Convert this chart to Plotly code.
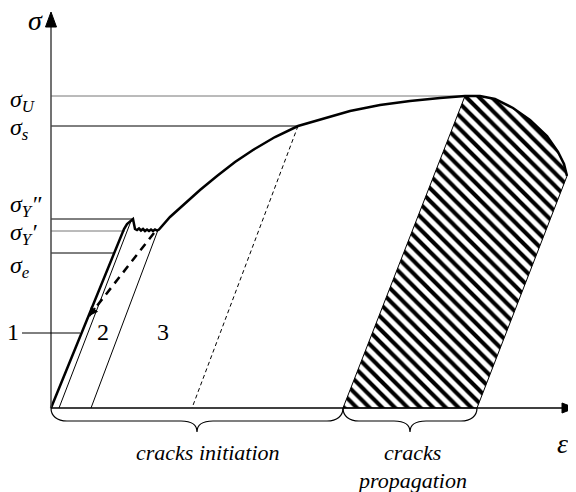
import numpy as np
import plotly.graph_objects as go

# ---------------- data (diagram units: strain -> x, stress -> y) ----------------
curve_x = [0, 70, 73, 76, 79, 82, 83, 84, 86, 88, 90, 92, 94, 96, 98, 100, 102, 104, 106, 108,
           119, 132, 149, 166, 184, 202, 224, 247, 274, 299, 329, 359, 389, 414, 429, 444, 462,
           479, 496, 507, 513, 516]
curve_y = [0, 170, 179, 184, 187, 189, 184, 179, 178, 179.5, 177.5, 179, 177, 178.5, 177, 178.5,
           177, 178.5, 177.5, 178.5, 191, 203, 218, 232, 246, 258, 271, 282, 290, 297, 303, 307,
           310, 312, 312, 309, 300, 288, 272, 256, 244, 232]

levels = {"U": 312, "s": 282, "Y2": 189, "Y1": 177, "e": 155}
level_ends = {"U": 414, "s": 247, "Y2": 82, "Y1": 74, "e": 63}
level_labels = {"U": "σ<sub>U</sub>", "s": "σ<sub>s</sub>", "Y2": "σ<sub>Y</sub>″",
                "Y1": "σ<sub>Y</sub>′", "e": "σ<sub>e</sub>"}
level_colors = {"U": "#777777", "s": "#000000", "Y2": "#000000", "Y1": "#777777", "e": "#000000"}

line_a = ([8, 80], [0, 187])          # thin unloading line "2"
line_b = ([40, 107], [0, 178])        # thin unloading line "3"
dash_thick = ([103, 38], [175, 92])   # dashed thick line with arrow
dash_thin = ([247, 141], [282, 0])    # dashed unloading from sigma_s

hatch_left = ([292, 414], [0, 312])
hatch_right_bottom = 426

x_axis_end, y_axis_end = 524, 396
braces = [(0, 292), (292, 426)]

# ---------------- figure ----------------
fig = go.Figure()
black = "#000000"

def add_line(x, y, width=1.0, color=black, dash="solid"):
    fig.add_trace(go.Scatter(x=x, y=y, mode="lines", hoverinfo="skip",
                             line=dict(color=color, width=width, dash=dash)))

# hatched crack-propagation region
cx = np.array(curve_x, dtype=float)
cy = np.array(curve_y, dtype=float)
sel = cx >= hatch_left[0][1]
hx = [hatch_left[0][0]] + list(cx[sel]) + [hatch_right_bottom, hatch_left[0][0]]
hy = [hatch_left[1][0]] + list(cy[sel]) + [0, hatch_left[1][0]]
fig.add_trace(go.Scatter(x=hx, y=hy, mode="lines", fill="toself", hoverinfo="skip",
                         line=dict(color=black, width=1),
                         fillcolor="white",
                         fillpattern=dict(shape="\\", size=9, solidity=0.45,
                                          fgcolor=black, bgcolor="white", fillmode="replace")))

# horizontal level lines
for k in levels:
    add_line([0, level_ends[k]], [levels[k], levels[k]], 1.0, level_colors[k])

# thin lines
add_line(*line_a, 1.0)
add_line(*line_b, 1.0)
add_line(*dash_thin, 1.0, dash="4px,3px")
add_line(*dash_thick, 2.5, dash="8px,6px")

# main curve
add_line(curve_x, curve_y, 2.5)

# axes
add_line([0, 0], [0, y_axis_end - 14], 1.5, "#444444")
add_line([0, x_axis_end - 12], [0, 0], 1.5)
fig.add_trace(go.Scatter(x=[-5.5, 5.5, 0, -5.5], y=[y_axis_end - 15, y_axis_end - 15, y_axis_end, y_axis_end - 15],
                         mode="lines", fill="toself", fillcolor=black, line=dict(color=black, width=1),
                         hoverinfo="skip"))
fig.add_trace(go.Scatter(x=[x_axis_end - 13, x_axis_end - 13, x_axis_end, x_axis_end - 13], y=[5, -5, 0, 5],
                         mode="lines", fill="toself", fillcolor=black, line=dict(color=black, width=1),
                         hoverinfo="skip"))

# leader line for label 1
add_line([-29, 29], [75, 75], 1.0)

# braces
shapes = []
for x0, x1 in braces:
    xm = (x0 + x1) / 2
    top, bar, tip = 0, -13, -24
    p = (f"M {x0},{top} C {x0},{top-8} {x0+6},{bar} {x0+16},{bar} "
         f"L {xm-16},{bar} C {xm-6},{bar} {xm},{bar-3} {xm},{tip} "
         f"C {xm},{bar-3} {xm+6},{bar} {xm+16},{bar} "
         f"L {x1-16},{bar} C {x1-6},{bar} {x1},{top-8} {x1},{top}")
    shapes.append(dict(type="path", path=p, xref="x", yref="y", line=dict(color=black, width=1.2)))

# arrowhead at end of thick dashed line
dx = dash_thick[0][1] - dash_thick[0][0]
dy = dash_thick[1][1] - dash_thick[1][0]
L = (dx**2 + dy**2) ** 0.5
annotations = [dict(x=dash_thick[0][1], y=dash_thick[1][1], xref="x", yref="y",
                    ax=dash_thick[0][1] - dx / L * 12, ay=dash_thick[1][1] - dy / L * 12,
                    axref="x", ayref="y", text="", showarrow=True, arrowhead=2,
                    arrowsize=1.2, arrowwidth=1.5, arrowcolor=black)]

serif = "Times New Roman"
level_label_y = {"U": 307, "s": 279, "Y2": 202, "Y1": 174, "e": 141}
for k in levels:
    annotations.append(dict(x=0, y=level_label_y[k], xref="paper", yref="y", xanchor="left",
                            yanchor="middle", text=f"<i>{level_labels[k]}</i>", showarrow=False,
                            font=dict(family=serif, size=24, color=black)))

texts = [(-16, 388, "<i>σ</i>", 28, "center"),
         (511, -35, "<i>ε</i>", 28, "center"),
         (-38, 76, "1", 24, "center"),
         (52, 76, "2", 24, "center"),
         (112, 76, "3", 24, "center"),
         (157, -44, "<i>cracks initiation</i>", 22, "center"),
         (361, -44, "<i>cracks</i>", 22, "center"),
         (361, -72, "<i>propagation</i>", 22, "center")]
for x, y, t, s, xa in texts:
    annotations.append(dict(x=x, y=y, xref="x", yref="y", xanchor=xa, yanchor="middle",
                            text=t, showarrow=False, font=dict(family=serif, size=s, color=black)))

# page body has an 8px margin: shift ranges so the drawing lands where the reference has it
fig.update_layout(
    width=576, height=492, margin=dict(l=0, r=0, t=0, b=0),
    paper_bgcolor="white", plot_bgcolor="white", showlegend=False,
    font=dict(family=serif, color=black),
    xaxis=dict(range=[-43, 533], visible=False, fixedrange=True),
    yaxis=dict(range=[-92, 400], visible=False, fixedrange=True),
    shapes=shapes, annotations=annotations,
)

fig.write_html("out.html")
